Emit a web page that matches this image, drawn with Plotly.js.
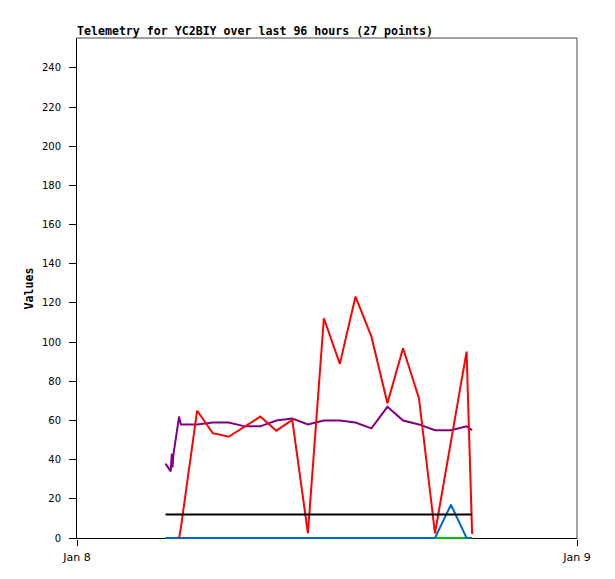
<!DOCTYPE html>
<html>
<head>
<meta charset="utf-8">
<script src="https://cdn.plot.ly/plotly-3.0.1.min.js"></script>
<style>html,body{margin:0;padding:0;background:#fff;}#chart{width:615px;height:579px;}</style>
</head>
<body>
<div id="chart"></div>
<script>
const times = [
  "2024-01-08 04:15","2024-01-08 04:30","2024-01-08 04:33","2024-01-08 04:35","2024-01-08 04:38",
  "2024-01-08 04:54","2024-01-08 04:59","2024-01-08 05:46","2024-01-08 06:31","2024-01-08 07:17",
  "2024-01-08 08:03","2024-01-08 08:48","2024-01-08 09:34","2024-01-08 10:20","2024-01-08 11:05",
  "2024-01-08 11:51","2024-01-08 12:37","2024-01-08 13:22","2024-01-08 14:08","2024-01-08 14:54",
  "2024-01-08 15:39","2024-01-08 16:25","2024-01-08 17:11","2024-01-08 17:57","2024-01-08 18:42",
  "2024-01-08 18:58"
];
const redValues    = [null,null,null,null,null,0,5,65,53.5,51.7,57,62,54.8,60.3,2.4,112.2,88.9,123.2,102.8,68.8,96.9,71.3,2.4,50,95.2,2];
const purpleValues = [38,34,43,36,43,62,58,58,59,59,57,57,60,61,58,60,60,59,56,67,60,58,55,55,57,55];
const blackValues  = [12,12,12,12,12,12,12,12,12,12,12,12,12,12,12,12,12,12,12,12,12,12,12,12,12,12];
const greenValues  = [0,0,0,0,0,0,0,0,0,0,0,0,0,0,0,0,0,0,0,0,0,0,0,0,0,0];
const blueValues   = [0,0,0,0,0,0,0,0,0,0,0,0,0,0,0,0,0,0,0,0,0,0,0,17,0,0];
const xTickVals = ["2024-01-08","2024-01-09"];
const xTickText = ["Jan 8","Jan 9"];
const titleText = "Telemetry for YC2BIY over last 96 hours (27 points)";

const mk = (y, color) => ({x: times, y: y, type: 'scatter', mode: 'lines',
  line: {color: color, width: 2}, hoverinfo: 'skip', showlegend: false, connectgaps: false});

const data = [
  mk(greenValues, '#00c000'),
  mk(blueValues, '#0066cc'),
  mk(purpleValues, '#800080'),
  mk(redValues, '#ff0000'),
  mk(blackValues, '#000000')
];

const mono = '"DejaVu Sans Mono", monospace';
const sans = '"DejaVu Sans", sans-serif';
const layout = {
  width: 615, height: 579,
  margin: {l: 77, r: 38, t: 38, b: 40},
  paper_bgcolor: '#fff', plot_bgcolor: '#fff',
  showlegend: false,
  title: {text: '<b>' + titleText + '</b>', font: {family: mono, size: 11.6, color: '#000'},
    xref: 'paper', x: 0, xanchor: 'left', yref: 'container', y: 1 - 31/579, yanchor: 'middle'},
  xaxis: {type: 'date', range: ["2024-01-08 00:00","2024-01-09 00:00"], layer: 'below traces',
    tickvals: xTickVals, ticktext: xTickText, ticks: 'outside', ticklen: 6, tickwidth: 1, tickcolor: '#000',
    ticklabelstandoff: 2,
    showgrid: false, zeroline: false, showline: false,
    tickfont: {family: sans, size: 11, color: '#000'}, fixedrange: true},
  yaxis: {range: [-0.51, 255.3], tickmode: 'linear', tick0: 0, dtick: 20, layer: 'below traces',
    ticks: 'outside', ticklen: 7, tickwidth: 1, tickcolor: '#000', ticklabelstandoff: 6,
    showgrid: false, zeroline: false, showline: true, linecolor: '#000', linewidth: 1,
    tickfont: {family: sans, size: 10, color: '#000'},
    title: {text: '<b>Values</b>', font: {family: mono, size: 11.6, color: '#000'}, standoff: 5},
    fixedrange: true},
  shapes: [
    {type: 'line', xref: 'paper', yref: 'y', x0: 0, x1: 1, y0: -0.255, y1: -0.255, layer: 'below', line: {color: '#000', width: 1}},
    {type: 'line', xref: 'paper', yref: 'paper', x0: 0, x1: 1, y0: 1, y1: 1, line: {color: '#444', width: 1}},
    {type: 'line', xref: 'paper', yref: 'paper', x0: 1, x1: 1, y0: 0, y1: 1, line: {color: '#444', width: 1}}
  ]
};
Plotly.newPlot('chart', data, layout, {displayModeBar: false, staticPlot: true});
</script>
</body>
</html>
